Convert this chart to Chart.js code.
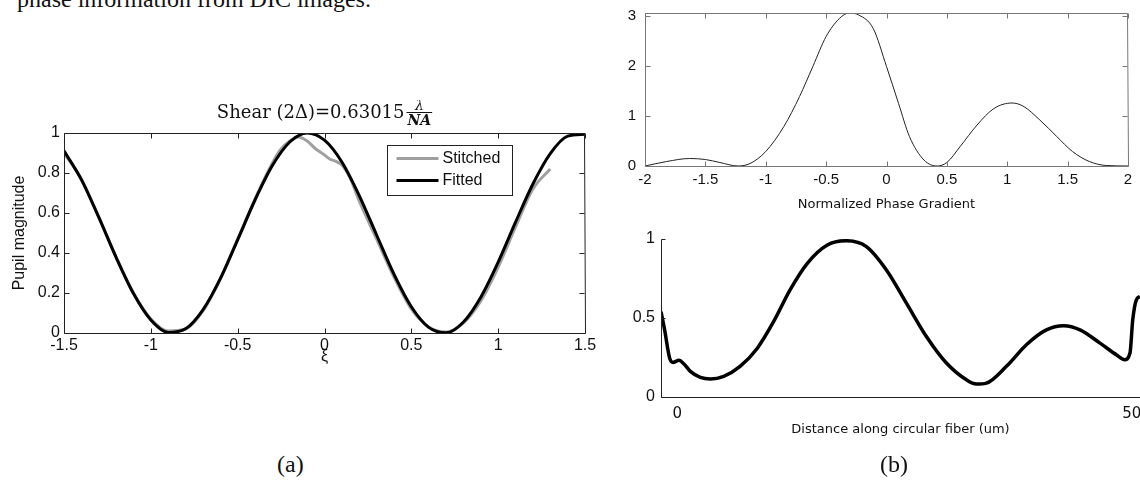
<!DOCTYPE html>
<html>
<head>
<meta charset="utf-8">
<script src="https://cdn.jsdelivr.net/npm/chart.js@4"></script>
<style>
  body { margin: 0; width: 1140px; height: 481px; position: relative; overflow: hidden; background: #fff; }
  .box { position: absolute; }
  .serif { position: absolute; font-family: "Liberation Serif", "Times New Roman", serif; font-size: 24px; line-height: 24px; color: #111; white-space: nowrap; }
</style>
</head>
<body>
<div class="serif" style="left:17px;top:-13px;">phase information from DIC images.</div>

<div class="box" style="left:0;top:100px;width:600px;height:270px;"><canvas id="pupil"></canvas></div>
<div class="box" style="left:600px;top:0;width:540px;height:215px;"><canvas id="gradient"></canvas></div>
<div class="box" style="left:600px;top:215px;width:540px;height:240px;"><canvas id="fiber"></canvas></div>

<div class="serif" style="left:277px;top:452px;">(a)</div>
<div class="serif" style="left:880px;top:452px;">(b)</div>

<script>
// (a) pupil magnitude vs xi
const xiFit = [-1.5, -1.4, -1.3, -1.2, -1.1, -1.0, -0.9, -0.8, -0.7, -0.6, -0.5, -0.4, -0.3, -0.2, -0.1,
	0, 0.1, 0.2, 0.3, 0.4, 0.5, 0.6, 0.7, 0.8, 0.9, 1.0, 1.1, 1.2, 1.3, 1.4, 1.5];
const fitted = [0.911, 0.767, 0.579, 0.378, 0.197, 0.065, 0.003, 0.021, 0.116, 0.272, 0.466, 0.665, 0.837, 0.955, 1.0,
	0.964, 0.855, 0.687, 0.49, 0.294, 0.131, 0.028, 0.001, 0.055, 0.179, 0.354, 0.554, 0.745, 0.897, 0.984, 0.994];

const xiStitch = [-1.5, -1.4, -1.3, -1.2, -1.1, -1.0, -0.9, -0.8, -0.7, -0.6, -0.5, -0.4, -0.3, -0.25, -0.2, -0.15, -0.1, -0.05,
	0, 0.03, 0.06, 0.1, 0.15, 0.2, 0.3, 0.4, 0.5, 0.6, 0.7, 0.8, 0.9, 1.0, 1.1, 1.2, 1.3];
const stitched = [0.90, 0.77, 0.58, 0.38, 0.20, 0.07, 0.01, 0.02, 0.11, 0.27, 0.47, 0.67, 0.85, 0.92, 0.96, 0.98, 0.96, 0.92,
	0.89, 0.87, 0.86, 0.84, 0.77, 0.66, 0.47, 0.28, 0.12, 0.03, 0.005, 0.05, 0.16, 0.33, 0.53, 0.72, 0.82];

const pupilTitle = "Shear (2\u0394)=0.63015";
const fracTop = "\u03bb";
const fracBottom = "NA";

// (b) top: normalized phase gradient
const gradX = [-2, -1.82, -1.63, -1.5, -1.38, -1.23, -1.13, -1.0, -0.85, -0.72, -0.61, -0.5, -0.39, -0.31, -0.23, -0.11,
	0, 0.1, 0.19, 0.31, 0.42, 0.5, 0.61, 0.75, 0.89, 1.04, 1.13, 1.27, 1.41, 1.54, 1.68, 1.82, 2];
const gradVal = [0, 0.09, 0.15, 0.13, 0.07, 0, 0.05, 0.29, 0.79, 1.39, 1.99, 2.59, 2.95, 3.06, 3.02, 2.75,
	1.99, 1.25, 0.59, 0.12, 0, 0.07, 0.39, 0.82, 1.15, 1.26, 1.2, 0.92, 0.59, 0.29, 0.09, 0.01, 0];

// (b) bottom: distance along fiber
const distX = [-1.8, -1.4, -0.85, -0.48, 0.18, 0.7, 1.43, 2.53, 3.63, 5.1, 6.9, 8.8, 10.6, 12.4, 14.3, 16.5, 18.6, 20.8,
	23.0, 25.2, 27.4, 29.6, 31.8, 32.9, 34.0, 36.2, 38.4, 40.6, 42.5, 44.3, 46.5, 48.3, 49.2, 49.8, 50.1, 50.5, 50.9];
const intensity = [0.54, 0.425, 0.246, 0.219, 0.232, 0.211, 0.162, 0.124, 0.114, 0.131, 0.194, 0.309, 0.478, 0.678, 0.846, 0.962, 0.989, 0.952,
	0.804, 0.594, 0.383, 0.215, 0.109, 0.082, 0.088, 0.194, 0.331, 0.425, 0.451, 0.425, 0.341, 0.267, 0.236, 0.278, 0.488, 0.615, 0.636];
const fiberTicks = [0, 50];

const SANS = '"Liberation Sans", Arial, sans-serif';
const DEJA = '"DejaVu Sans", sans-serif';

const pts = (xs, ys) => xs.map((x, i) => ({ x: x, y: ys[i] }));
// matlab style labels: 1 not 1.0
const plain = (v) => String(parseFloat(Number(v).toFixed(3)));

// matlab-ish frame with inward ticks
const frame = {
	id: "frame",
	afterDatasetsDraw(chart, args, o) {
		const { ctx, chartArea: a, scales: { x, y } } = chart;
		const L = Math.floor(a.left) + 0.5, R = Math.floor(a.right) - 0.5;
		const T = Math.floor(a.top) + 0.5, B = Math.floor(a.bottom) + 0.5;
		ctx.save();
		ctx.strokeStyle = o.color;
		ctx.lineWidth = 1;
		ctx.beginPath();
		ctx.moveTo(L, T);
		ctx.lineTo(L, B);
		ctx.lineTo(R + 1, B);
		if (o.box) {
			ctx.lineTo(R, T);
			ctx.lineTo(L, T);
		}
		if (o.xTicks) {
			x.ticks.forEach((t) => {
				const p = Math.round(x.getPixelForValue(t.value)) + 0.5;
				ctx.moveTo(p, B);
				ctx.lineTo(p, B - o.len);
				if (o.box) {
					ctx.moveTo(p, T);
					ctx.lineTo(p, T + o.len);
				}
			});
		}
		if (o.yTicks) {
			y.ticks.forEach((t) => {
				const p = Math.round(y.getPixelForValue(t.value)) + 0.5;
				ctx.moveTo(L, p);
				ctx.lineTo(L + o.len, p);
				if (o.box) {
					ctx.moveTo(R, p);
					ctx.lineTo(R - o.len, p);
				}
			});
		}
		ctx.stroke();
		ctx.restore();
	},
};

// title with the lambda / NA fraction
const fracTitle = {
	id: "fracTitle",
	afterDraw(chart) {
		const { ctx, chartArea: a } = chart;
		ctx.save();
		ctx.fillStyle = "#111";
		ctx.font = '18px "DejaVu Serif", serif';
		const w1 = ctx.measureText(pupilTitle).width;
		ctx.font = 'bold italic 14px "DejaVu Serif", serif';
		const wf = ctx.measureText(fracBottom).width + 2;
		let x0 = (a.left + a.right) / 2 - (w1 + 2 + wf) / 2;
		ctx.font = '18px "DejaVu Serif", serif';
		ctx.textBaseline = "alphabetic";
		ctx.fillText(pupilTitle, x0, a.top - 15);
		const fx = x0 + w1 + 2;
		ctx.textAlign = "center";
		ctx.font = 'italic 14px "DejaVu Serif", serif';
		ctx.fillText(fracTop, fx + wf / 2, a.top - 23);
		ctx.fillRect(fx, a.top - 21, wf, 1);
		ctx.font = 'bold italic 14px "DejaVu Serif", serif';
		ctx.fillText(fracBottom, fx + wf / 2, a.top - 8);
		ctx.restore();
	},
};

// boxed legend inside the plot
const boxLegend = {
	id: "boxLegend",
	afterDraw(chart, args, o) {
		const { ctx, chartArea: a } = chart;
		const bx = Math.floor(a.left + o.left) + 0.5, by = Math.floor(a.top + o.top) + 0.5;
		ctx.save();
		ctx.fillStyle = "#fff";
		ctx.fillRect(bx, by, o.w, o.h);
		ctx.strokeStyle = "#222";
		ctx.lineWidth = 1;
		ctx.strokeRect(bx, by, o.w, o.h);
		ctx.font = "16px " + SANS;
		ctx.textBaseline = "middle";
		chart.data.datasets.forEach((ds, i) => {
			const yy = by + 13 + i * 22;
			ctx.strokeStyle = ds.borderColor;
			ctx.lineWidth = ds.borderWidth;
			ctx.beginPath();
			ctx.moveTo(bx + 9, yy);
			ctx.lineTo(bx + 51, yy);
			ctx.stroke();
			ctx.fillStyle = "#111";
			ctx.fillText(ds.label, bx + 55, yy);
		});
		ctx.restore();
	},
};

// fixed axis sizes, and no extra room for overflowing labels
const fixW = (w) => (s) => { s.width = w; s.paddingTop = 0; s.paddingBottom = 0; };
const fixH = (h) => (s) => { s.height = h; s.paddingLeft = 0; s.paddingRight = 0; };

const base = {
	responsive: true,
	maintainAspectRatio: false,
	animation: false,
	devicePixelRatio: 1,
	events: [],
	elements: { point: { radius: 0 } },
};

new Chart(document.getElementById("pupil"), {
	type: "line",
	data: {
		datasets: [
			{
				label: "Stitched",
				data: pts(xiStitch, stitched),
				borderColor: "#a0a0a0",
				borderWidth: 3,
				cubicInterpolationMode: "monotone",
				order: 1,
			},
			{
				label: "Fitted",
				data: pts(xiFit, fitted),
				borderColor: "#000",
				borderWidth: 3,
				cubicInterpolationMode: "monotone",
				order: 0,
			},
		],
	},
	options: {
		...base,
		layout: { padding: { top: 33, right: 15, left: 0, bottom: 0 } },
		plugins: {
			legend: { display: false },
			tooltip: { enabled: false },
			frame: { color: "#222", box: true, xTicks: true, yTicks: true, len: 5 },
			boxLegend: { left: 323, top: 12, w: 125, h: 50 },
		},
		scales: {
			x: {
				type: "linear",
				min: -1.5,
				max: 1.5,
				afterFit: fixH(37),
				grid: { display: false, drawTicks: false },
				border: { display: false },
				ticks: { stepSize: 0.5, padding: 3, color: "#111", font: { family: SANS, size: 16 }, callback: plain },
				title: { display: true, text: "\u03be", color: "#111", font: { family: SANS, size: 16 }, padding: { top: 0, bottom: 4 } },
			},
			y: {
				min: 0,
				max: 1,
				afterFit: fixW(64),
				grid: { display: false, drawTicks: false },
				border: { display: false },
				ticks: { stepSize: 0.2, padding: 4, color: "#111", font: { family: SANS, size: 16 }, callback: plain },
				title: { display: true, text: "Pupil magnitude", color: "#111", font: { family: SANS, size: 16 }, padding: { top: 10, bottom: 0 } },
			},
		},
	},
	plugins: [frame, fracTitle, boxLegend],
});

new Chart(document.getElementById("gradient"), {
	type: "line",
	data: {
		datasets: [
			{
				label: "gradient",
				data: pts(gradX, gradVal),
				borderColor: "#222",
				borderWidth: 1,
				cubicInterpolationMode: "monotone",
			},
		],
	},
	options: {
		...base,
		layout: { padding: { top: 13, right: 12, left: 0, bottom: 0 } },
		plugins: {
			legend: { display: false },
			tooltip: { enabled: false },
			frame: { color: "#777", box: true, xTicks: true, yTicks: true, len: 5 },
		},
		scales: {
			x: {
				type: "linear",
				min: -2,
				max: 2,
				afterFit: fixH(49),
				grid: { display: false, drawTicks: false },
				border: { display: false },
				ticks: { stepSize: 0.5, padding: 5, color: "#111", font: { family: SANS, size: 15 }, callback: plain },
				title: { display: true, text: "Normalized Phase Gradient", color: "#111", font: { family: DEJA, size: 13 }, padding: { top: 0, bottom: 3 } },
			},
			y: {
				min: 0,
				max: 3.06,
				afterFit: fixW(45),
				grid: { display: false, drawTicks: false },
				border: { display: false },
				ticks: { stepSize: 1, includeBounds: false, padding: 9, color: "#111", font: { family: SANS, size: 15 }, callback: plain },
			},
		},
	},
	plugins: [frame],
});

new Chart(document.getElementById("fiber"), {
	type: "line",
	data: {
		datasets: [
			{
				label: "fiber",
				data: pts(distX, intensity),
				borderColor: "#000",
				borderWidth: 3.5,
				cubicInterpolationMode: "monotone",
			},
		],
	},
	options: {
		...base,
		layout: { padding: { top: 24, right: 0, left: 0, bottom: 0 } },
		plugins: {
			legend: { display: false },
			tooltip: { enabled: false },
			frame: { color: "#222", box: false, xTicks: false, yTicks: true, len: 4 },
		},
		scales: {
			x: {
				type: "linear",
				min: -1.8,
				max: 50.9,
				afterFit: fixH(58),
				afterBuildTicks: (s) => { s.ticks = fiberTicks.map((v) => ({ value: v })); },
				grid: { display: false, drawTicks: false },
				border: { display: false },
				ticks: { padding: 8, color: "#111", font: { family: DEJA, size: 15 }, callback: plain },
				title: { display: true, text: "Distance along circular fiber (um)", color: "#111", font: { family: DEJA, size: 13 }, padding: { top: 0, bottom: 18 } },
			},
			y: {
				min: 0,
				max: 1,
				afterFit: fixW(61),
				grid: { display: false, drawTicks: false },
				border: { display: false },
				ticks: { stepSize: 0.5, padding: 6, color: "#111", font: { family: SANS, size: 16 }, callback: plain },
			},
		},
	},
	plugins: [frame],
});
</script>
</body>
</html>
